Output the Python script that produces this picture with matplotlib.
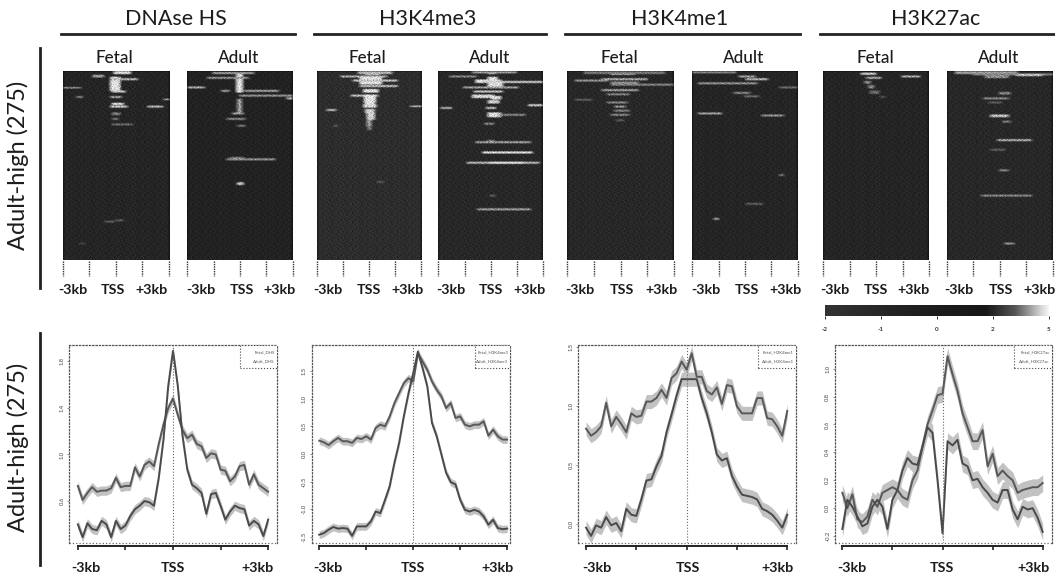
import numpy as np
import matplotlib
matplotlib.use('Agg')
import matplotlib.pyplot as plt
from matplotlib.colors import LinearSegmentedColormap
from matplotlib.patches import Rectangle

plt.rcParams['font.family'] = ['Lato', 'DejaVu Sans']

W, H = 1055, 578
marks = ['DNAse HS', 'H3K4me3', 'H3K4me1', 'H3K27ac']
row_label = 'Adult-high (275)'
bar_labels = ['-2', '-1', '0', '2', '5']
bar_grey = [0.20, 0.14, 0.11, 0.09, 0.33, 0.85, 0.96]
bar_stops = [0.0, 0.3, 0.5, 0.72, 0.85, 0.97, 1.0]

# scan grain of the heatmaps, typed by hand
grain = np.array([[1, -2, 3, 0, -1, 4, -3, 1, 2, -2, 0, 3, -1, -3, 2, 0, 1],
                  [-3, 2, 0, -2, 3, -1, 1, -3, 0, 4, -2, 1, 2, 0, -1, 3, -2],
                  [2, 0, -1, 4, -3, 1, 0, 2, -2, -1, 3, -3, 0, 1, 4, -2, 0],
                  [0, -3, 1, 2, 0, -2, 3, -1, 1, 0, -2, 2, 4, -3, 0, 1, -1],
                  [-1, 3, -2, 0, 1, 2, -3, 0, 4, -2, 1, -1, 0, 2, -3, 1, 3],
                  [3, 0, 2, -3, -1, 0, 1, 3, -2, 2, -1, 0, -3, 1, 2, -1, 0],
                  [-2, 1, -1, 3, 2, -3, 0, -2, 1, 3, 0, 4, -1, -2, 0, 2, -3],
                  [1, 4, 0, -2, 0, 1, -1, 2, -3, 0, 2, -2, 3, 0, -1, -3, 2],
                  [0, -1, -3, 1, 3, -2, 4, 0, 2, -1, -3, 1, 0, 3, -2, 0, 1],
                  [2, -2, 1, 0, -3, 3, 0, -1, 0, 2, 1, -3, -2, 4, 1, -1, 0],
                  [-3, 0, 3, -1, 2, 0, -2, 1, 3, -3, 0, 2, 1, -1, 0, 3, -2],
                  [1, 2, -2, 4, 0, -1, 1, -3, 0, 1, -2, 0, 3, 2, -3, 0, 1],
                  [0, -1, 1, -3, 2, 3, -2, 0, -1, 4, 2, -1, 0, -2, 1, 2, -3]])

# heatmap streaks: first row, last row, from kb, to kb, grey level
dnase_fetal = [(0, 3, -0.1, 0.8, .95), (5, 8, -1.3, -0.7, .6), (8, 28, -0.3, 0.2, 1.0), (10, 12, -0.3, 1.2, .7),
               (23, 24, -3, -2, .6), (28, 30, -0.2, 0.5, .8), (36, 38, -2.2, -1.9, .5), (36, 38, -0.3, 0.3, .6),
               (40, 41, 2.7, 3, .7), (46, 48, -0.2, 0.4, 1.0), (50, 52, 1.8, 2.6, .7), (50, 52, -.3, .6, .8),
               (60, 63, -.2, .2, .5), (68, 70, -.2, .1, .45), (76, 78, -.2, .9, .4), (218, 220, -.6, -.1, .35),
               (216, 218, 0, .4, .35), (250, 252, -2, -1.8, .3)]
dnase_adult = [(1, 3, -1.5, .8, .6), (4, 30, -.15, .15, 1.0), (8, 10, -1.8, .5, .55), (22, 24, -2.9, -2, .65),
               (27, 29, -1, -.6, .6), (27, 29, .3, 2.2, .6), (34, 36, 0, 3, .55), (38, 40, 2.7, 3, .7),
               (40, 60, -.12, .12, .65), (60, 62, -.4, .2, .6), (68, 70, -.7, .3, .5), (78, 80, -.1, .3, .45),
               (125, 127, -.5, .2, .5), (127, 129, -.7, 2, .55), (162, 165, -.1, .2, .85)]
me3_fetal = [(0, 4, -.2, .6, 1.0), (0, 3, -.6, 1.3, .7), (6, 8, -1.6, 1, .65), (8, 18, -.5, .7, 1.0),
             (12, 14, -.9, 1.6, .75), (20, 22, -.5, 1.6, .75), (26, 30, -.3, .5, 1.0), (34, 36, -1, .5, .75),
             (34, 45, -.25, .35, 1.0), (45, 48, -.2, .3, 1.0), (48, 52, -.3, .4, .9), (50, 51, 2.4, 3, .8),
             (55, 57, -2.4, -1.9, .7), (55, 60, -.2, .3, .85), (60, 70, -.1, .3, .85), (70, 80, -.1, .1, .65),
             (80, 85, -.05, .1, .5), (78, 80, -2, -1.8, .35), (160, 162, .5, .8, .35)]
me3_adult = [(0, 3, -.1, .3, .85), (0, 2, -1, 1.5, .6), (6, 8, -2.3, -.8, .5), (12, 16, -.8, .6, 1.0),
             (14, 16, -.4, 3, .8), (8, 12, -.1, .4, .95), (16, 24, -.1, .7, .95), (22, 24, -1.5, 1.6, .6),
             (28, 30, -.9, .7, .75), (34, 38, -1, .2, .9), (36, 40, .1, .6, .95), (42, 46, -.1, .5, .85),
             (48, 50, 2.2, 3, .8), (52, 54, -2.8, -2.2, .65), (52, 54, -.2, .3, .75), (60, 66, -.1, .6, .95),
             (62, 64, .5, 2, .5), (75, 77, -.3, .2, .5), (100, 102, -.1, .2, .5), (102, 104, -.8, 2.3, .6),
             (117, 119, -.4, 2.4, .95), (132, 134, -1.3, 2.8, .7), (132, 134, 0, 1.9, 1.0), (180, 182, 0, .3, .35),
             (200, 202, -.7, 2.3, .6)]
me1_fetal = [(2, 4, -.5, .8, .85), (0, 3, -2, 2.5, .45), (10, 12, -1, 1.5, .65), (12, 14, -2.5, -.7, .55),
             (15, 18, -.5, 1, .55), (18, 20, -.5, 3, .5), (26, 28, -1, 1, .6), (32, 34, -.7, .5, .5),
             (40, 42, -2.5, -1.6, .35), (44, 46, -.7, .4, .5), (50, 52, -.3, .3, .55), (56, 58, -.3, .5, .5),
             (62, 64, -.5, .5, .5), (70, 72, -.2, .2, .35)]
me1_adult = [(0, 2, -3, -.5, .5), (6, 8, -.3, .6, .6), (10, 12, .1, 1.3, .7), (16, 18, -2.6, .7, .55),
             (22, 24, 2, 3, .4), (30, 32, -.6, .3, .5), (35, 37, 0, .8, .4), (60, 62, -2.6, -1.3, .6),
             (63, 65, 1, 2.2, .55), (150, 152, 2, 2.2, .5), (192, 194, .1, 1, .35), (214, 216, -1.7, -1.5, .7)]
k27_fetal = [(2, 4, -.8, 0, .85), (8, 10, -.5, .3, .65), (6, 8, 1.5, 2.5, .65), (14, 17, -.6, -.3, .55),
             (20, 24, -.4, -.1, .5), (28, 32, -.3, .2, .4), (36, 38, .3, .5, .35)]
k27_adult = [(0, 3, -2.5, 1, .6), (3, 5, -1.5, 3, .5), (4, 6, 1, 2.4, .8), (6, 9, -.8, .5, .55), (30, 33, 0, .6, .5),
             (38, 40, -.9, .5, .5), (44, 46, -.6, .1, .35), (63, 66, -.5, .5, .75), (72, 74, .2, .6, .5),
             (99, 101, -.1, 1.8, .65), (113, 115, -.5, .3, .35), (143, 145, 0, .5, .5), (180, 182, -1, 1.8, .5),
             (250, 252, .3, .8, .55)]

# profile curves, 41 readings from -3kb to +3kb
dnase_a = [0.73, 0.61, 0.67, 0.72, 0.68, 0.69, 0.69, 0.71, 0.80, 0.72, 0.73, 0.73, 0.89, 0.81, 0.91, 0.94, 0.90, 1.09,
           1.26, 1.40, 1.48, 1.34, 1.21, 1.14, 1.17, 1.09, 1.07, 0.97, 1.01, 1.00, 0.87, 0.86, 0.77, 0.81, 0.90, 0.91,
           0.74, 0.83, 0.74, 0.71, 0.68]
dnase_b = [0.40, 0.29, 0.41, 0.36, 0.35, 0.43, 0.40, 0.29, 0.43, 0.36, 0.39, 0.47, 0.53, 0.56, 0.60, 0.59, 0.56, 0.80,
           1.13, 1.59, 1.89, 1.59, 1.16, 0.87, 0.74, 0.71, 0.67, 0.49, 0.66, 0.67, 0.56, 0.44, 0.51, 0.56, 0.54, 0.53,
           0.39, 0.43, 0.40, 0.30, 0.44]
me3_a = [0.24, 0.21, 0.16, 0.23, 0.29, 0.23, 0.23, 0.20, 0.29, 0.27, 0.32, 0.26, 0.47, 0.53, 0.50, 0.68, 0.92, 1.10,
         1.28, 1.37, 1.31, 1.82, 1.67, 1.52, 1.31, 1.16, 1.04, 0.83, 0.92, 0.65, 0.68, 0.53, 0.50, 0.53, 0.53, 0.59,
         0.33, 0.44, 0.32, 0.26, 0.26]
me3_b = [-1.46, -1.43, -1.37, -1.32, -1.35, -1.34, -1.35, -1.48, -1.31, -1.31, -1.31, -1.22, -1.04, -1.07, -0.83,
         -0.58, -0.16, 0.20, 0.68, 1.10, 1.46, 1.85, 1.55, 1.22, 0.56, 0.32, -0.01, -0.34, -0.51, -0.55, -0.83, -1.01,
         -1.04, -1.01, -1.04, -1.13, -1.28, -1.19, -1.34, -1.36, -1.35]
me1_a = [0.81, 0.75, 0.78, 0.83, 1.03, 0.83, 0.91, 0.85, 0.78, 0.94, 0.91, 0.92, 1.04, 1.04, 1.07, 1.14, 1.07, 1.24,
         1.28, 1.38, 1.31, 1.45, 1.25, 1.25, 1.13, 1.10, 1.16, 1.02, 1.18, 1.17, 1.00, 0.94, 0.94, 0.94, 1.07, 1.07,
         0.90, 0.89, 0.83, 0.75, 0.96]
me1_b = [-0.03, -0.10, -0.01, -0.03, 0.06, -0.01, 0.01, -0.06, 0.13, 0.08, 0.07, 0.21, 0.37, 0.38, 0.49, 0.58, 0.78,
         0.93, 1.09, 1.23, 1.23, 1.23, 1.23, 1.07, 0.94, 0.78, 0.59, 0.54, 0.56, 0.41, 0.32, 0.25, 0.24, 0.23, 0.21,
         0.13, 0.11, 0.08, 0.03, -0.03, 0.08]
k27_a = [0.11, 0.00, 0.10, -0.08, -0.10, -0.06, 0.06, 0.01, 0.11, 0.13, 0.15, 0.13, 0.08, 0.06, 0.20, 0.27, 0.44, 0.60,
         0.70, 0.81, 0.82, 1.09, 0.96, 0.84, 0.68, 0.58, 0.48, 0.48, 0.56, 0.30, 0.39, 0.23, 0.27, 0.23, 0.20, 0.11,
         0.13, 0.14, 0.15, 0.15, 0.18]
k27_b = [-0.15, 0.06, 0.01, -0.06, -0.13, -0.11, 0.01, 0.06, 0.01, -0.15, 0.06, 0.13, 0.27, 0.36, 0.32, 0.31, 0.44,
         0.58, 0.54, 0.20, -0.18, 0.48, 0.45, 0.49, 0.32, 0.30, 0.20, 0.21, 0.15, 0.11, 0.06, 0.04, 0.13, 0.13, -0.01,
         -0.08, 0.01, -0.01, 0.00, -0.07, -0.17]
kb = np.arange(41) * 0.15 - 3

fig = plt.figure(figsize=(W / 100, H / 100), dpi=100)


def box(x0, x1, y0, y1):
    return fig.add_axes([x0 / W, 1 - y1 / H, (x1 - x0) / W, (y1 - y0) / H])


def label(x, y, s, size, weight='normal', rot=0):
    fig.text(x / W, 1 - y / H, s, fontsize=size, fontweight=weight, rotation=rot,
             ha='center', va='center', color='#1c1c1c')


def rule(x0, x1, y0, y1, lw=2):
    fig.add_artist(plt.Line2D([x0 / W, x1 / W], [1 - y0 / H, 1 - y1 / H], color='#222222', lw=lw))


def heatmap(x0, x1, streaks, base, name, labx):
    ax = box(x0, x1, 71, 260)
    grid = np.full((276, 120), base)
    for r0, r1, a, b, g in streaks:
        c0 = int((a + 3) / 6 * 119)
        c1 = int((b + 3) / 6 * 119) + 1
        grid[r0:r1 + 1, c0:c1] = g
    # soften the hard edges of the streaks like the scan does
    grid = np.apply_along_axis(lambda r: np.convolve(r, np.ones(5) / 5, mode='same'), 1, grid)
    grid = np.apply_along_axis(lambda c: np.convolve(c, np.ones(2) / 2, mode='same'), 0, grid)
    tex = np.tile(grain, (22, 8))[:276, :120]
    grid = grid * (1 + tex * 0.16) + tex * 0.006
    ax.imshow(grid, cmap='gray', vmin=0, vmax=1, aspect='auto', extent=(-3, 3, 275, 0), interpolation='bilinear')
    for v in [-3, -1.5, 0, 1.5, 3]:
        ax.plot([v, v], [276, 298], color='#333333', lw=1, ls=(0, (1, 0.7)), clip_on=False)
    ax.set_xlim(-3, 3)
    ax.set_ylim(275, 0)
    ax.set_xticks([])
    ax.set_yticks([])
    for s in ax.spines.values():
        s.set_visible(False)
    label((x0 + x1) / 2 - 1, 58, name, 12.3, 'medium')
    for x, s in zip(labx, ['-3kb', 'TSS', '+3kb']):
        label(x, 290, s, 10.3, 'bold')


def profile(x0, x1, xlim, ylim, yticks, a, b, band, legend, labx):
    ax = box(x0, x1, 345, 543)
    for line in (a, b):
        line = np.array(line)
        ax.fill_between(kb, line - band, line + band, color='#c2c2c2', lw=0, zorder=1)
    ax.plot(kb, a, color='#585858', lw=1.4, zorder=2)
    ax.plot(kb, b, color='#4a4a4a', lw=1.4, zorder=2)
    ax.axvline(0, color='#666666', lw=0.8, ls=':', zorder=3)
    ax.axhline(ylim[0], color='#666666', lw=0.9, ls=':', clip_on=False)
    ax.set_xlim(xlim)
    ax.set_ylim(ylim)
    for k in ('top', 'left', 'right'):
        ax.spines[k].set_linestyle(':')
        ax.spines[k].set_color('#555555')
        ax.spines[k].set_linewidth(0.9)
    ax.spines['bottom'].set_position(('outward', 2))
    ax.spines['bottom'].set_bounds(-3, 3)
    ax.spines['bottom'].set_linewidth(1.4)
    ax.spines['bottom'].set_color('#222222')
    ax.set_xticks([-3, -1.5, 0, 1.5, 3])
    ax.set_xticklabels([])
    ax.tick_params(axis='x', length=3, width=1.2, color='#222222')
    ax.set_yticks(yticks)
    ax.set_yticklabels(['%.1f' % v for v in yticks], rotation=90, va='center', fontsize=4.2, color='#444444')
    ax.tick_params(axis='y', length=1.5, width=0.5, pad=2, color='#666666')
    ax.add_patch(Rectangle((0.825, 0.882), 0.175, 0.118, transform=ax.transAxes, fc='white', ec='#444444',
                           lw=0.8, ls=':', zorder=4))
    ax.text(0.99, 0.965, legend[0], transform=ax.transAxes, fontsize=3.2, ha='right', va='center', color='#555555', zorder=5)
    ax.text(0.99, 0.915, legend[1], transform=ax.transAxes, fontsize=3.2, ha='right', va='center', color='#555555', zorder=5)
    for x, s in zip(labx, ['-3kb', 'TSS', '+3kb']):
        label(x, 568, s, 10.3, 'bold')


# group headers
for s, x, x0, x1 in zip(marks, [176, 428, 680, 936], [61, 314, 565, 820], [295, 546, 800, 1055]):
    label(x, 19, s, 15.5)
    rule(x0, x1, 34, 34)

label(18, 165, row_label, 17, rot=90)
label(18, 447, row_label, 17, rot=90)
rule(40, 40, 48, 288, 2)
rule(40, 40, 333, 565, 2)

heatmap(62.7, 169, dnase_fetal, 0.14, 'Fetal', [73, 113, 152])
heatmap(187.3, 292.7, dnase_adult, 0.13, 'Adult', [201, 242, 280])
heatmap(316.7, 421, me3_fetal, 0.17, 'Fetal', [328, 369, 407])
heatmap(438.3, 543.3, me3_adult, 0.15, 'Adult', [451, 491, 530])
heatmap(567.3, 673.7, me1_fetal, 0.15, 'Fetal', [580, 622, 661])
heatmap(692.3, 797.7, me1_adult, 0.14, 'Adult', [706, 747, 786])
heatmap(823.3, 929, k27_fetal, 0.14, 'Fetal', [835, 876, 913])
heatmap(946.7, 1052.7, k27_adult, 0.15, 'Adult', [959, 1001, 1039])

profile(69.3, 276.7, (-3.27, 3.27), (0.24, 1.94), [0.6, 1.0, 1.4, 1.8], dnase_a, dnase_b, 0.04,
        ['Fetal_DHS', 'Adult_DHS'], [86, 173, 258])
profile(311.7, 510, (-3.24, 3.09), (-1.61, 1.97), [-1.5, -1.0, -0.5, 0.0, 0.5, 1.0, 1.5], me3_a, me3_b, 0.07,
        ['Fetal_H3K4me3', 'Adult_H3K4me3'], [328, 413, 498])
profile(578.3, 796, (-3.23, 3.26), (-0.16, 1.52), [0.0, 0.5, 1.0, 1.5], me1_a, me1_b, 0.06,
        ['Fetal_H3K4me1', 'Adult_H3K4me1'], [597, 688, 778])
profile(835, 1051.7, (-3.22, 3.27), (-0.25, 1.17), [-0.2, 0.0, 0.2, 0.4, 0.6, 0.8, 1.0], k27_a, k27_b, 0.06,
        ['Fetal_H3K27ac', 'Adult_H3K27ac'], [852, 942, 1033])

# colour key
cax = box(825, 1049, 305, 316)
key = LinearSegmentedColormap.from_list('key', list(zip(bar_stops, [(g, g, g) for g in bar_grey])))
cax.imshow(np.linspace(0, 1, 256)[None, :], cmap=key, aspect='auto', extent=(0, 1, 0, 1))
cax.set_yticks([])
cax.set_xticks([0, 0.25, 0.5, 0.75, 1])
cax.set_xticklabels(bar_labels, fontsize=4.5, fontweight='bold', color='#333333')
cax.tick_params(axis='x', length=2, width=0.7, pad=6, color='#333333')
for s in cax.spines.values():
    s.set_visible(False)

fig.savefig('out.png', dpi=100)
